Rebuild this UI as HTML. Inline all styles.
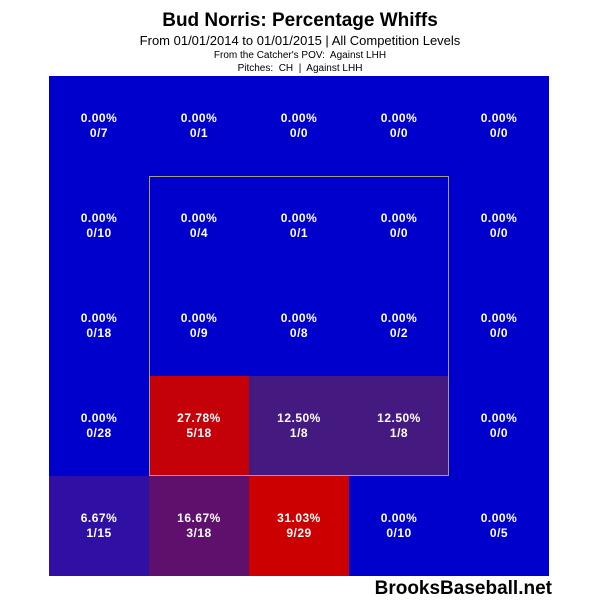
<!DOCTYPE html>
<html><head><style>
body{margin:0;width:600px;height:600px;background:#fff;position:relative;overflow:hidden;font-family:"Liberation Sans",Arial,sans-serif}
.t{position:absolute;left:0;width:600px;text-align:center;color:#000}
.c{position:absolute;width:100px;height:100px;color:#fff;font-weight:bold;font-size:12px;text-align:center;box-sizing:border-box;padding-top:35px;line-height:15px;letter-spacing:0.5px}
</style></head><body>
<div class="t" style="top:10px;font-size:19px;font-weight:bold">Bud Norris: Percentage Whiffs</div>
<div class="t" style="top:33px;font-size:13px">From 01/01/2014 to 01/01/2015 | All Competition Levels</div>
<div class="t" style="top:50px;font-size:10px">From the Catcher's POV:&nbsp; Against LHH</div>
<div class="t" style="top:63px;font-size:10px">Pitches:&nbsp; CH&nbsp; |&nbsp; Against LHH</div>
<div style="position:absolute;left:49px;top:76px;width:500px;height:500px;background:#0000cc"></div>
<div class="c" style="left:49px;top:76px">0.00%<br>0/7</div>
<div class="c" style="left:149px;top:76px">0.00%<br>0/1</div>
<div class="c" style="left:249px;top:76px">0.00%<br>0/0</div>
<div class="c" style="left:349px;top:76px">0.00%<br>0/0</div>
<div class="c" style="left:449px;top:76px">0.00%<br>0/0</div>
<div class="c" style="left:49px;top:176px">0.00%<br>0/10</div>
<div class="c" style="left:149px;top:176px">0.00%<br>0/4</div>
<div class="c" style="left:249px;top:176px">0.00%<br>0/1</div>
<div class="c" style="left:349px;top:176px">0.00%<br>0/0</div>
<div class="c" style="left:449px;top:176px">0.00%<br>0/0</div>
<div class="c" style="left:49px;top:276px">0.00%<br>0/18</div>
<div class="c" style="left:149px;top:276px">0.00%<br>0/9</div>
<div class="c" style="left:249px;top:276px">0.00%<br>0/8</div>
<div class="c" style="left:349px;top:276px">0.00%<br>0/2</div>
<div class="c" style="left:449px;top:276px">0.00%<br>0/0</div>
<div class="c" style="left:49px;top:376px">0.00%<br>0/28</div>
<div class="c" style="left:149px;top:376px;background:#c40008">27.78%<br>5/18</div>
<div class="c" style="left:249px;top:376px;background:#441a80">12.50%<br>1/8</div>
<div class="c" style="left:349px;top:376px;background:#441a80">12.50%<br>1/8</div>
<div class="c" style="left:449px;top:376px">0.00%<br>0/0</div>
<div class="c" style="left:49px;top:476px;background:#3010a4">6.67%<br>1/15</div>
<div class="c" style="left:149px;top:476px;background:#5e106c">16.67%<br>3/18</div>
<div class="c" style="left:249px;top:476px;background:#cc0000">31.03%<br>9/29</div>
<div class="c" style="left:349px;top:476px">0.00%<br>0/10</div>
<div class="c" style="left:449px;top:476px">0.00%<br>0/5</div>
<div style="position:absolute;left:149px;top:176px;width:300px;height:300px;border:1px solid #a0a080;box-sizing:border-box"></div>
<div style="position:absolute;right:48px;top:578px;font-size:19px;font-weight:bold;color:#000">BrooksBaseball.net</div>
</body></html>
